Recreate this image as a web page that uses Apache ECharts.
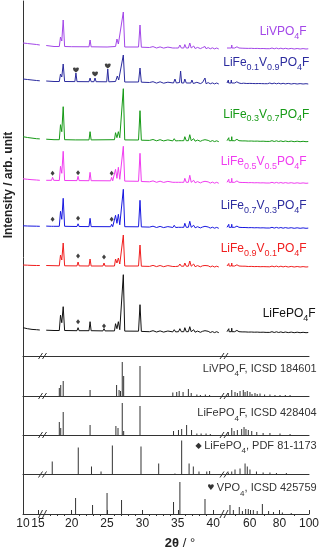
<!DOCTYPE html>
<html><head><meta charset="utf-8">
<script src="https://cdn.jsdelivr.net/npm/echarts@6/dist/echarts.min.js"></script>
<style>html,body{margin:0;padding:0;background:#fff}#c{width:322px;height:550px}</style>
</head><body><div id="c"></div>
<script>
// ---------- DATA (2theta, intensity in arbitrary units) ----------
// LiVPO4F
const t1A = [[10,6],[11.5,5.5],[13,5],[14.5,4.5],[15.6,4]];
const t1B = [[16.4,3.5],[17.5,2.5],[18.25,2.5],[18.42,12],[18.6,8],[18.8,29],[19.0,2.5],[20.0,2.3],[22.45,2.2],[22.6,9],[22.75,2.2],[25.0,2],[26.2,2.5],[26.4,10],[26.6,5],[26.8,4],[27.3,37],[27.5,2],[29.45,2],[29.66,24],[29.85,1.8],[31.0,1.5],[31.5,2.4],[32.0,1.0],[32.5,2.1],[33.0,0.9],[33.6,1.9],[34.3,1],[34.5,3],[34.7,1],[35.1,1],[35.3,4],[35.5,1],[35.85,1],[36.0,4.5],[36.2,1],[36.5,1],[36.7,6],[36.9,1],[37.1,1],[37.25,3],[37.45,0.5],[37.8,1.6],[38.2,0.4],[38.5,1.4],[38.85,2.5],[39.0,0.3],[39.3,1.4],[39.6,0.2],[39.9,1.2],[40.2,0.1],[40.5,1.0],[40.8,0]];
const t1C = [[44.6,1],[45.2,2],[45.6,0.8],[45.8,3],[46.0,1],[46.8,2.2],[47.6,1],[47.8,4],[48.0,1],[48.9,2.4],[49.8,1],[50.0,3],[50.2,1],[51.3,2.2],[52.3,0.8],[52.5,3],[52.7,1],[53.7,2.1],[54.8,0.8],[55.0,2.5],[55.2,0.8],[56.0,1.9],[56.8,0.7],[57.0,2.2],[57.2,0.5],[58,1.7],[59,0.6],[60,1.9],[61,0.7],[62,1.6],[63,0.5],[64,1.4],[65,0.6],[66,1.5],[67,0.4],[68,1.3],[69,0.5],[70,1.1],[71,0.3],[72,1.1],[73.5,0.3],[75,1.0],[76.5,0.2],[78,0.9],[79.5,0.2],[81,0.8],[82.5,0.1],[84,0.7],[86,0.1],[88,0.6],[90,0],[92,0.5],[94,0],[96,0.4],[98,0],[99.5,0.2]];
// LiFe0.1V0.9PO4F
const t2A = [[10,5],[11.5,4.5],[13,4],[14.5,3.5],[15.6,3.2]];
const t2B = [[16.4,3],[17.5,2.5],[18.25,2.5],[18.42,10],[18.6,7],[18.8,20],[19.0,2.5],[20.45,2.4],[20.6,11],[20.75,2.4],[22.45,2.3],[22.6,6],[22.75,2.3],[23.15,2.3],[23.3,6],[23.45,2.3],[24.95,2.2],[25.1,15],[25.25,2.2],[26.2,2.5],[26.45,8],[26.65,4],[26.8,4],[27.3,29],[27.5,2],[29.45,2],[29.66,16],[29.85,1.8],[31.0,1.5],[31.5,2.3],[32.0,0.9],[32.5,2.2],[33.0,0.8],[33.6,1.8],[34.4,1],[34.6,5],[34.8,1],[35.25,1.5],[35.4,13],[35.55,1],[35.85,1],[36.0,5],[36.2,1],[36.85,1],[37.0,4],[37.2,0.5],[37.7,1.7],[38.2,0.4],[38.5,1.5],[38.7,0.5],[38.85,6],[39.0,0.3],[39.3,1.4],[39.6,0.2],[39.9,1.1],[40.2,0.1],[40.5,1.0],[40.8,0]];
const t2C = [[44.6,1],[45.0,2],[45.3,0.8],[45.5,4],[45.7,1],[46.5,2.1],[47.3,1],[47.5,4],[47.7,1],[48.7,2.3],[49.8,1],[50.0,3],[50.2,0.5],[51.2,2.2],[52.3,0.8],[52.5,2.5],[52.7,1],[53.8,1],[54.0,3],[54.2,0.5],[55.0,1.9],[55.8,0.8],[56.0,2],[56.2,1],[57,1.6],[58,0.5],[59.0,1.8],[60,0.6],[61,1.7],[62.0,0.5],[63,1.5],[64,0.4],[65,1.4],[66.0,0.5],[67,1.3],[68,0.4],[69,1.1],[70,0.3],[71,1.0],[72,0.3],[73.5,1.0],[75,0.2],[76.5,0.9],[78,0.2],[79.5,0.8],[81,0.1],[82.5,0.7],[84,0.1],[86,0.6],[88,0],[90,0.5],[92,0],[94,0.4],[96,0],[98,0.3],[99.5,0]];
// LiFe0.3V0.7PO4F
const t3A = [[10,5],[11.5,4.2],[13,3.6],[14.5,3],[15.6,2.8]];
const t3B = [[16.4,2.5],[17.5,2],[18.25,2],[18.42,17],[18.6,10],[18.8,35],[19.0,2],[20.5,1.8],[22.45,1.8],[22.6,10],[22.75,1.8],[26.05,2],[26.2,9],[26.4,4],[26.6,10],[26.8,4],[27.3,53],[27.5,1.8],[29.45,1.7],[29.66,31],[29.85,1.5],[31.0,1.3],[31.5,2.2],[32.0,0.9],[32.5,2.0],[33.0,0.8],[33.6,1.8],[34.3,0.8],[34.5,3],[34.7,0.8],[35.1,1],[35.3,3],[35.5,1],[35.85,1],[36.0,5],[36.2,1],[36.5,1],[36.7,7],[36.9,1],[37.1,1],[37.25,3],[37.45,0.5],[37.8,1.6],[38.2,0.4],[38.5,1.4],[38.85,2],[39.0,0.3],[39.3,1.3],[39.6,0.2],[39.9,1.1],[40.2,0.1],[40.5,0.9],[40.8,0]];
const t3C = [[44.6,1],[45.2,2.1],[45.6,1],[45.8,4],[46.0,1],[46.8,2.3],[47.6,1],[47.8,5],[48.0,1],[48.9,2.5],[49.8,1],[50.0,2.5],[50.2,1.5],[51.3,2.4],[52.3,0.8],[52.5,3],[52.7,1],[53.7,2.2],[54.8,0.8],[55.0,2.5],[55.2,1],[56.0,2.0],[56.8,0.8],[57.0,2.2],[57.2,0.5],[58,1.8],[59,0.6],[60,1.9],[61,0.7],[62,1.7],[63,0.5],[64,1.5],[65,0.6],[66,1.5],[67,0.4],[68,1.4],[69,0.5],[70,1.2],[71,0.3],[72,1.1],[73.5,0.3],[75,1.0],[76.5,0.2],[78,0.9],[79.5,0.2],[81,0.8],[82.5,0.1],[84,0.7],[86,0.1],[88,0.6],[90,0],[92,0.5],[94,0],[96,0.4],[98,0],[99.5,0.2]];
// LiFe0.5V0.5PO4F
const t4A = [[10,4.5],[11.5,4],[13,3.6],[14.5,3.3],[15.6,3]];
const t4B = [[16.4,3],[17.15,3],[17.3,6],[17.45,3],[18.25,2.8],[18.42,17],[18.6,10],[18.8,32],[19.0,2.8],[20.75,2.7],[20.9,7],[21.05,2.7],[22.45,2.6],[22.6,11],[22.75,2.6],[25.5,2.5],[25.65,6],[25.8,2.5],[26.05,2.5],[26.2,14],[26.4,5],[26.6,16],[26.8,4],[27.3,37],[27.5,2.2],[29.45,2],[29.66,30],[29.85,1.8],[31.0,1.5],[31.5,2.4],[32.0,1.0],[32.5,2.1],[33.0,0.9],[33.6,1.9],[34.3,1],[34.5,3],[34.7,1],[35.1,1],[35.3,3],[35.5,1],[35.85,1],[36.0,5],[36.2,1],[36.5,1],[36.7,8],[36.9,1],[37.1,1],[37.25,3],[37.45,0.5],[37.8,1.7],[38.2,0.4],[38.5,1.4],[38.85,2],[39.0,0.3],[39.3,1.4],[39.6,0.2],[39.9,1.2],[40.2,0.1],[40.5,1.0],[40.8,0]];
const t4C = [[44.6,1],[45.2,2.2],[45.6,1],[45.8,4],[46.0,1],[46.8,2.4],[47.6,1],[47.8,5],[48.0,1],[48.9,2.5],[49.8,1],[50.0,3],[50.2,1.5],[51.3,2.4],[52.3,0.8],[52.5,3],[52.7,1],[53.7,2.2],[54.8,0.8],[55.0,2],[55.2,1],[56.0,2.0],[56.8,0.8],[57.0,2.5],[57.2,0.5],[58,1.8],[59,0.6],[60,2.0],[61,0.7],[62,1.7],[63,0.5],[64,1.5],[65,0.6],[66,1.6],[67,0.4],[68,1.4],[69,0.5],[70,1.2],[71,0.3],[72,1.1],[73.5,0.3],[75,1.0],[76.5,0.2],[78,0.9],[79.5,0.2],[81,0.8],[82.5,0.1],[84,0.7],[86,0.1],[88,0.6],[90,0],[92,0.5],[94,0],[96,0.4],[98,0],[99.5,0.2]];
// LiFe0.7V0.3PO4F
const t5A = [[10,2.5],[11.5,2.3],[13,2.2],[14.5,2.1],[15.6,2]];
const t5B = [[16.4,2.2],[17.15,2],[17.3,4],[17.45,2],[18.25,2],[18.42,17],[18.6,9],[18.8,30],[19.0,2],[20.75,1.8],[20.9,4.5],[21.05,1.8],[22.45,1.7],[22.6,10],[22.75,1.7],[25.5,1.6],[25.65,4],[25.8,1.6],[26.05,1.6],[26.2,13],[26.4,5],[26.6,14],[26.8,3.5],[27.3,39],[27.5,1.6],[29.45,1.5],[29.66,28],[29.85,1.4],[31.0,1.2],[31.5,2.1],[32.0,0.8],[32.5,1.9],[33.0,0.7],[33.6,1.7],[34.3,0.8],[34.5,3],[34.7,0.8],[35.1,1],[35.3,3],[35.5,1],[35.85,1],[36.0,5],[36.2,1],[36.5,1],[36.7,7],[36.9,1],[37.1,1],[37.25,3],[37.45,0.5],[37.8,1.6],[38.2,0.4],[38.5,1.3],[38.85,2],[39.0,0.3],[39.3,1.3],[39.6,0.2],[39.9,1.1],[40.2,0.1],[40.5,0.9],[40.8,0]];
const t5C = [[44.6,1],[45.2,2],[45.6,1],[45.8,4],[46.0,1],[46.8,2.2],[47.6,1],[47.8,4],[48.0,1],[48.9,2.4],[49.8,1],[50.0,3],[50.2,1],[51.3,2.2],[52.3,0.8],[52.5,3],[52.7,1],[53.7,2.1],[54.8,0.8],[55.0,2],[55.2,1],[56.0,1.9],[56.8,0.8],[57.0,2],[57.2,0.5],[58,1.7],[59,0.6],[60,1.8],[61,0.7],[62,1.6],[63,0.5],[64,1.4],[65,0.6],[66,1.5],[67,0.4],[68,1.3],[69,0.5],[70,1.1],[71,0.3],[72,1.0],[73.5,0.3],[75,1.0],[76.5,0.2],[78,0.9],[79.5,0.2],[81,0.8],[82.5,0.1],[84,0.7],[86,0.1],[88,0.6],[90,0],[92,0.5],[94,0],[96,0.4],[98,0],[99.5,0.2]];
// LiFe0.9V0.1PO4F
const t6A = [[10,2],[11.5,1.8],[13,1.6],[14.5,1.5],[15.6,1.5]];
const t6B = [[16.4,1.5],[18.25,1.2],[18.42,12],[18.6,7],[18.8,24],[19.0,1.2],[20.75,1.1],[20.9,5],[21.05,1.1],[22.45,1],[22.6,8],[22.75,1],[24.42,1],[24.57,4],[24.72,1],[26.05,1],[26.2,8],[26.4,4],[26.6,9],[26.8,3],[27.3,32],[27.5,1],[29.45,1],[29.66,22],[29.85,0.8],[31.0,0.6],[31.5,1.6],[32.0,0.4],[32.5,1.5],[33.0,0.3],[33.6,1.4],[34.3,0.5],[34.5,2],[34.7,0.5],[35.1,0.8],[35.3,3],[35.5,0.8],[35.85,0.8],[36.0,4],[36.2,0.8],[36.5,0.8],[36.7,6],[36.9,0.8],[37.1,0.8],[37.25,3],[37.45,0.3],[37.8,1.4],[38.2,0.2],[38.5,1.2],[38.85,1.5],[39.0,0.2],[39.3,1.2],[39.6,0.1],[39.9,1.0],[40.2,0],[40.5,0.8],[40.8,0]];
const t6C = [[44.6,1],[45.2,2],[45.6,1],[45.8,3.5],[46.0,1],[46.8,2.2],[47.6,1],[47.8,4],[48.0,1],[48.9,2.3],[49.8,1],[50.0,2.5],[50.2,1],[51.3,2.2],[52.3,0.8],[52.5,3],[52.7,1],[53.7,2.0],[54.8,0.8],[55.0,2],[55.2,1],[56.0,1.8],[56.8,0.8],[57.0,2],[57.2,0.5],[58,1.6],[59,0.5],[60,1.8],[61,0.6],[62,1.6],[63,0.4],[64,1.4],[65,0.5],[66,1.4],[67,0.3],[68,1.3],[69,0.4],[70,1.1],[71,0.3],[72,1.0],[73.5,0.2],[75,0.9],[76.5,0.2],[78,0.9],[79.5,0.1],[81,0.8],[82.5,0.1],[84,0.7],[86,0],[88,0.6],[90,0],[92,0.5],[94,0],[96,0.4],[98,0],[99.5,0.2]];
// LiFePO4F
const t7A = [[10,5],[11.5,4],[13,3.3],[14.5,3],[15.6,2.7]];
const t7B = [[16.4,2.5],[17.5,2.2],[18.25,2.2],[18.42,17.5],[18.6,10],[18.8,26],[19.0,2.2],[20.75,2],[20.9,5],[21.05,2],[22.45,2],[22.6,11],[22.75,2],[24.42,1.8],[24.57,4],[24.72,1.8],[26.05,1.8],[26.2,9],[26.4,4],[26.6,11],[26.8,3],[27.3,58],[27.5,1.6],[29.45,1.5],[29.66,28],[29.85,1.3],[31.0,1],[31.5,2.0],[32.0,0.7],[32.5,1.8],[33.0,0.6],[33.6,1.7],[34.3,0.8],[34.5,3],[34.7,0.8],[35.1,1],[35.3,4],[35.5,1],[35.85,1],[36.0,5],[36.2,1],[36.5,1],[36.7,6],[36.9,1],[37.1,1],[37.25,3],[37.45,0.5],[37.8,1.6],[38.2,0.4],[38.5,1.4],[38.85,2],[39.0,0.3],[39.3,1.4],[39.6,0.2],[39.9,1.1],[40.2,0.1],[40.5,1.0],[40.8,0]];
const t7C = [[44.6,1],[45.2,2.2],[45.6,1],[45.8,4],[46.0,1],[46.8,2.4],[47.6,1],[47.8,4.5],[48.0,1],[48.9,2.5],[49.8,1],[50.0,3],[50.2,1],[51.3,2.3],[52.3,0.8],[52.5,3],[52.7,1],[53.7,2.2],[54.8,0.8],[55.0,2],[55.2,1],[56.0,2.0],[56.8,0.8],[57.0,2],[57.2,0.5],[58,1.8],[59,0.6],[60,1.9],[61,0.7],[62,1.7],[63,0.5],[64,1.5],[65,0.6],[66,1.5],[67,0.4],[68,1.4],[69,0.5],[70,1.2],[71,0.3],[72,1.1],[73.5,0.3],[75,1.0],[76.5,0.2],[78,0.9],[79.5,0.2],[81,0.8],[82.5,0.1],[84,0.7],[86,0.1],[88,0.6],[90,0],[92,0.5],[94,0],[96,0.4],[98,0],[99.5,0.2]];

// impurity markers (2theta, height)
const diamonds4 = [[17.3,10],[20.9,10.6],[25.65,10]];
const diamonds5 = [[17.3,9],[20.9,10],[25.65,9]];
const diamonds6 = [[20.9,11],[24.57,10]];
const diamonds7 = [[20.9,11],[24.57,6.7]];
const hearts2 = [[20.6,14],[23.3,10],[25.1,18]];

// reference stick patterns
const livpoRefB = [[18.25,8],[18.45,11],[18.8,15],[22.6,6],[26.35,11],[26.7,6],[26.9,5],[27.15,34],[27.35,20],[29.66,30],[34.3,3.5],[34.85,4],[35.2,5],[35.75,4],[36.5,7],[36.9,3],[37.7,1.5],[38.2,1],[38.9,1.5],[39.5,1]];
const livpoRefC = [[45.5,3],[47.8,6],[50,4],[51.6,3],[53.4,5],[55.6,6],[56.8,4],[58.3,5],[60.1,4],[61.5,2],[63.5,3],[65,2],[66.9,2.5],[70,1.5],[73.6,1.5],[77,1],[80.4,1],[84,1],[87.2,1]];
const lifepofRefB = [[18.25,13],[18.45,7],[18.8,23],[22.6,10],[26.25,9],[26.55,7],[27.15,32],[27.35,4],[29.66,29],[34.4,4],[35.1,5],[35.55,6],[36.25,10],[36.95,5],[37.7,1.5],[38.3,1.5],[39.0,1.5],[39.6,1]];
const lifepofRefC = [[45.5,3],[47.8,7],[49.4,4],[51.6,5],[54.5,6],[56.1,8],[57.4,6],[59,5],[61.3,4],[64.7,3],[69,2],[73.6,2],[80.4,1.5],[87.2,1]];
const lifepo4RefB = [[17.25,13],[20.93,27],[22.8,8],[24.15,3],[25.75,29],[29.8,28],[32.3,11],[34.6,1],[35.55,34],[36.6,11],[37.2,8],[38.0,3],[39.1,3],[39.5,3.5]];
const lifepo4RefC = [[45.5,2],[47.8,3],[50,5],[53.4,6],[56.8,11],[58.3,8],[60.1,5],[64.5,3],[69,2],[73.6,2],[78,1.5],[84.7,1.5]];
const vpo4RefB = [[20.55,16],[22.95,9],[25.0,21],[27.05,14],[34.4,12],[35.3,32],[38.85,15]];
const vpo4RefC = [[46.6,9],[48.9,4],[52.9,7],[55,3],[57.2,5],[59,5],[62.4,4],[65,3],[68.5,10],[72.7,3],[76,2],[82,1.5],[88,1]];

// tick labels
const ticksA = [10,15];
const ticksB = [20,25,30,35,40];
const minorB = [17,18,19,21,22,23,24,26,27,28,29,31,32,33,34,36,37,38,39];
const ticksC = [60,80,100];
const minorC = [50,70,90];

// ---------- LAYOUT ----------
const FONT = 'Liberation Sans, Arial, Helvetica, sans-serif';
const SEGS = [
  {left: 23, width: 20.4, min: 10, max: 16.8},
  {left: 43.4, width: 176.8, min: 16, max: 41},
  {left: 220.2, width: 88.8, min: 40, max: 100}
];
const EXP_BOTTOM = 356;   // bottom line of the experimental block
const traces = [
  {data:[t1A,t1B,t1C], color:'#a347e8', base:49},
  {data:[t2A,t2B,t2C], color:'#2b2b9e', base:84},
  {data:[t3A,t3B,t3C], color:'#169a16', base:141.7},
  {data:[t4A,t4B,t4C], color:'#f03cf0', base:183.3},
  {data:[t5A,t5B,t5C], color:'#1818e0', base:228.3},
  {data:[t6A,t6B,t6C], color:'#f01e1e', base:267},
  {data:[t7A,t7B,t7C], color:'#111111', base:332.7}
];
const markerSets = [
  {trace:1, data:hearts2, symbol:'path://M10,30 A20,20,0,0,1,50,30 A20,20,0,0,1,90,30 Q90,60,50,90 Q10,60,10,30 z', size:[6,5]},
  {trace:3, data:diamonds4, symbol:'diamond', size:[4,5]},
  {trace:4, data:diamonds5, symbol:'diamond', size:[4,5]},
  {trace:5, data:diamonds6, symbol:'diamond', size:[4,5]},
  {trace:6, data:diamonds7, symbol:'diamond', size:[4,5]}
];
const refs = [
  {data:[null, livpoRefB, livpoRefC], base:396},
  {data:[null, lifepofRefB, lifepofRefC], base:435},
  {data:[null, lifepo4RefB, lifepo4RefC], base:474.5},
  {data:[null, vpo4RefB, vpo4RefC], base:514}
];
const AXC = '#333';

const grids = [], xAxes = [], yAxes = [], series = [];
const lineAxis = {show: true, axisLine: {show: true, onZero: false, lineStyle: {color: AXC, width: 1}},
  axisTick: {show: false}, axisLabel: {show: false}, splitLine: {show: false}};

// experimental block: one grid per axis segment, one hidden y axis per pattern
const expX = [], expY = [];
SEGS.forEach((seg, si) => {
  const gi = grids.length;
  grids.push({left: seg.left, top: 0, width: seg.width, height: EXP_BOTTOM});
  expX[si] = xAxes.length;
  xAxes.push(Object.assign({type: 'value', gridIndex: gi, min: seg.min, max: seg.max}, lineAxis));
  expY[si] = [];
  traces.forEach((t, ti) => {
    expY[si][ti] = yAxes.length;
    // 1 unit = 1 px; value 0 lands on the pattern's own baseline
    yAxes.push({type: 'value', gridIndex: gi, min: t.base - EXP_BOTTOM, max: t.base, show: false,
      splitLine: {show: false}});
  });
});
traces.forEach((t, ti) => {
  SEGS.forEach((seg, si) => {
    series.push({type: 'line', xAxisIndex: expX[si], yAxisIndex: expY[si][ti], data: t.data[si],
      showSymbol: false, z: 10, lineStyle: {color: t.color, width: 1}, itemStyle: {color: t.color}});
  });
});
markerSets.forEach(m => {
  series.push({type: 'scatter', xAxisIndex: expX[1], yAxisIndex: expY[1][m.trace], data: m.data,
    symbol: m.symbol, symbolSize: m.size, itemStyle: {color: '#111'}, z: 11});
});

// reference panels
refs.forEach((r, ri) => {
  const last = ri === refs.length - 1;
  SEGS.forEach((seg, si) => {
    const gi = grids.length;
    grids.push({left: seg.left, top: r.base - 39, width: seg.width, height: 39});
    const yi = yAxes.length;
    yAxes.push({type: 'value', gridIndex: gi, min: 0, max: 39, show: false});
    let opts = lineAxis;
    if (last) {
      const major = si === 0 ? ticksA : si === 1 ? ticksB : ticksC;
      opts = {show: true, axisLine: {show: true, onZero: false, lineStyle: {color: AXC, width: 1}},
        axisTick: {show: true, inside: true, length: 4, customValues: major, lineStyle: {color: AXC}},
        axisLabel: {show: true, customValues: major, fontSize: 12, color: '#222', fontFamily: FONT, margin: 4},
        splitLine: {show: false}};
    }
    const xi = xAxes.length;
    xAxes.push(Object.assign({type: 'value', gridIndex: gi, min: seg.min, max: seg.max}, opts));
    if (last && si > 0) {
      const minor = si === 1 ? minorB : minorC;
      xAxes.push({type: 'value', gridIndex: gi, min: seg.min, max: seg.max, show: true,
        axisLine: {show: false}, axisLabel: {show: false}, splitLine: {show: false},
        axisTick: {show: true, inside: true, length: 2, customValues: minor, lineStyle: {color: AXC}}});
    }
    if (r.data[si]) {
      series.push({type: 'bar', xAxisIndex: xi, yAxisIndex: yi, data: r.data[si], barWidth: 1,
        itemStyle: {color: '#333'}});
    }
  });
});
// left vertical axis
{
  const gi = grids.length;
  grids.push({left: 23, top: 1, width: 1, height: 513});
  xAxes.push({type: 'value', gridIndex: gi, min: 0, max: 1, show: false});
  yAxes.push({type: 'value', gridIndex: gi, min: 0, max: 1, show: true,
    axisLine: {show: true, lineStyle: {color: AXC, width: 1}}, axisTick: {show: false},
    axisLabel: {show: false}, splitLine: {show: false}});
}

// ---------- GRAPHIC TEXT ----------
const graphic = [];
function richLabel(parts, color, x, y, size, subSize) {
  const text = parts.map(p => '{' + p[1] + '|' + p[0] + '}').join('');
  graphic.push({type: 'text', x: x, y: y, z: 1, silent: true, style: {text: text, align: 'right', verticalAlign: 'middle',
    fill: color, fontFamily: FONT, fontSize: size,
    rich: {m: {fontSize: size, lineHeight: 18, fontFamily: FONT, fill: color},
           s: {fontSize: subSize, lineHeight: subSize, verticalAlign: 'bottom', fontFamily: FONT, fill: color},
           d: {fontSize: 8, lineHeight: 18, fontFamily: 'DejaVu Sans', fill: color}}}});
}
function mixed(a, b) { return [['LiFe','m'],[a,'s'],['V','m'],[b,'s'],['PO','m'],['4','s'],['F','m']]; }
richLabel([['LiVPO','m'],['4','s'],['F','m']], '#a347e8', 306.7, 31.7, 12, 9);
richLabel(mixed('0.1','0.9'), '#2b2b9e', 309.3, 62.7, 12, 9);
richLabel(mixed('0.3','0.7'), '#169a16', 309.3, 114.3, 12, 9);
richLabel(mixed('0.5','0.5'), '#f03cf0', 306.7, 161.7, 12, 9);
richLabel(mixed('0.7','0.3'), '#2b2b9e', 306.7, 206, 12, 9);
richLabel(mixed('0.9','0.1'), '#f01e1e', 306.7, 249, 12, 9);
richLabel([['LiFePO','m'],['4','s'],['F','m']], '#111', 315.7, 314, 12, 9);
richLabel([['LiVPO','m'],['4','s'],['F, ICSD 184601','m']], '#333', 316.7, 369, 11, 8);
richLabel([['LiFePO','m'],['4','s'],['F, ICSD 428404','m']], '#333', 316.7, 413.3, 11, 8);
richLabel([['\u25C6 ','d'],['LiFePO','m'],['4','s'],[', PDF 81-1173','m']], '#333', 316.7, 445.7, 11, 8);
richLabel([['\u2665 ','d'],['VPO','m'],['4','s'],[', ICSD 425759','m']], '#333', 316.7, 488.3, 11, 8);

// axis titles
graphic.push({type: 'text', x: 180, y: 543, z: 1, silent: true, style: {text: '{b|2θ}{n| / °}', align: 'center',
  verticalAlign: 'middle', rich: {b: {fontSize: 13, fontWeight: 'bold', fontFamily: FONT, fill: '#222'},
  n: {fontSize: 13, fontFamily: FONT, fill: '#222'}}}});
graphic.push({type: 'text', x: 9, y: 185, z: 1, rotation: Math.PI / 2, silent: true, style: {text: 'Intensity / arb. unit',
  align: 'center', verticalAlign: 'middle', fontSize: 12, fontWeight: 'bold', fontFamily: FONT, fill: '#222'}});

// axis break marks
[356, 396, 435, 474.5, 514].forEach(y => {
  const h = y === 514 ? 4 : 3;
  [38.5, 42.5, 220, 224].forEach(x0 => {
    graphic.push({type: 'line', z: 1, silent: true, shape: {x1: x0, y1: y + h, x2: x0 + 4, y2: y - h},
      style: {stroke: AXC, lineWidth: 1}});
  });
});

const chart = echarts.init(document.getElementById('c'), null, {renderer: 'canvas'});
chart.setOption({animation: false, backgroundColor: '#fff', grid: grids, xAxis: xAxes, yAxis: yAxes,
  series: series, graphic: graphic});
</script></body></html>
